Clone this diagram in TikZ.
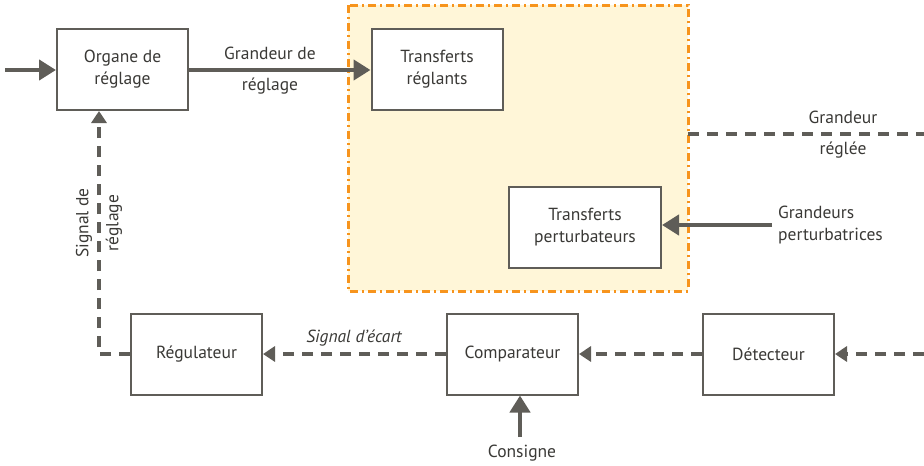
\documentclass[tikz,border=0pt]{standalone}
\usepackage{fontspec}
\setmainfont{PT Sans}
\usetikzlibrary{arrows.meta}
\definecolor{lgray}{HTML}{5F5D58}
\definecolor{txt}{HTML}{3A3936}
\definecolor{orng}{HTML}{F7941D}
\definecolor{ylw}{HTML}{FFF6D8}
\begin{document}
\begin{tikzpicture}[x=1pt,y=-1pt,
  every node/.style={font=\fontsize{17.5}{22}\selectfont, text=txt},
  blk/.style={draw=lgray, line width=2pt, fill=white, minimum width=131pt, minimum height=81pt, align=center, inner sep=0pt},
  thickarr/.style={draw=lgray, line width=4.5pt, -{Triangle[length=17pt,width=20pt]}},
  dasharr/.style={draw=lgray, line width=3.5pt, dash pattern=on 11pt off 8pt, -{Triangle[length=12pt,width=15pt]}},
  dashline/.style={draw=lgray, line width=3.5pt, dash pattern=on 11pt off 8pt},
  lbl/.style={align=center, inner sep=0pt}]
\useasboundingbox (0,0) rectangle (924,466);
% yellow zone
\fill[ylw] (348,5) rectangle (688,291);
\draw[orng, line width=3pt, dash pattern=on 8pt off 4pt on 2pt off 4pt] (348,5) rectangle (688,291);
% blocks
\node[blk] (org) at (122.5,69.5) {Organe de\\réglage};
\node[blk] (trr) at (437,69.5) {Transferts\\réglants};
\node[blk, minimum width=152pt] (trp) at (585,227.5) {Transferts\\perturbateurs};
\node[blk] (reg) at (196.5,354) {Régulateur};
\node[blk] (cmp) at (512.5,354) {Comparateur};
\node[blk] (det) at (768.5,354) {Détecteur};
% free ends
\coordinate (in) at (5,70);
\coordinate (outL) at (688,134);
\coordinate (outR) at (924,134);
\coordinate (pert) at (772,225);
\coordinate (detin) at (924,354);
\coordinate (corner) at (99,354);
\coordinate (cons) at (520,437);
% connectors
\draw[thickarr] (in) -- (org.west |- in);
\draw[thickarr] (org.east |- in) -- (trr.west |- in);
\draw[dashline] (outL) -- (outR);
\draw[thickarr] (pert) -- (trp.east |- pert);
\draw[dasharr] (detin) -- (det.east);
\draw[dasharr] (det.west) -- (cmp.east);
\draw[dasharr] (cmp.west) -- (reg.east);
\draw[dasharr] (reg.west) -- (corner) -- (corner |- org.south);
\draw[thickarr] (cons) -- (cons |- cmp.south);
% labels
\node[lbl] (l1a) at (270,53) {Grandeur de};
\node[lbl] (l1b) at (270,86) {réglage};
\node[lbl] (l2a) at (843,117) {Grandeur};
\node[lbl] (l2b) at (843,150) {réglée};
\node[lbl, align=left, anchor=west] (l3) at (778,225) {Grandeurs\\perturbatrices};
\node[lbl] (l4) at (354,338) {\itshape Signal d’écart};
\node[lbl, rotate=90, font=\fontsize{17.5}{30}\selectfont] (l5) at (99,223) {Signal de\\réglage};
\node[lbl] (l6) at (522,453) {Consigne};
\end{tikzpicture}
\end{document}
